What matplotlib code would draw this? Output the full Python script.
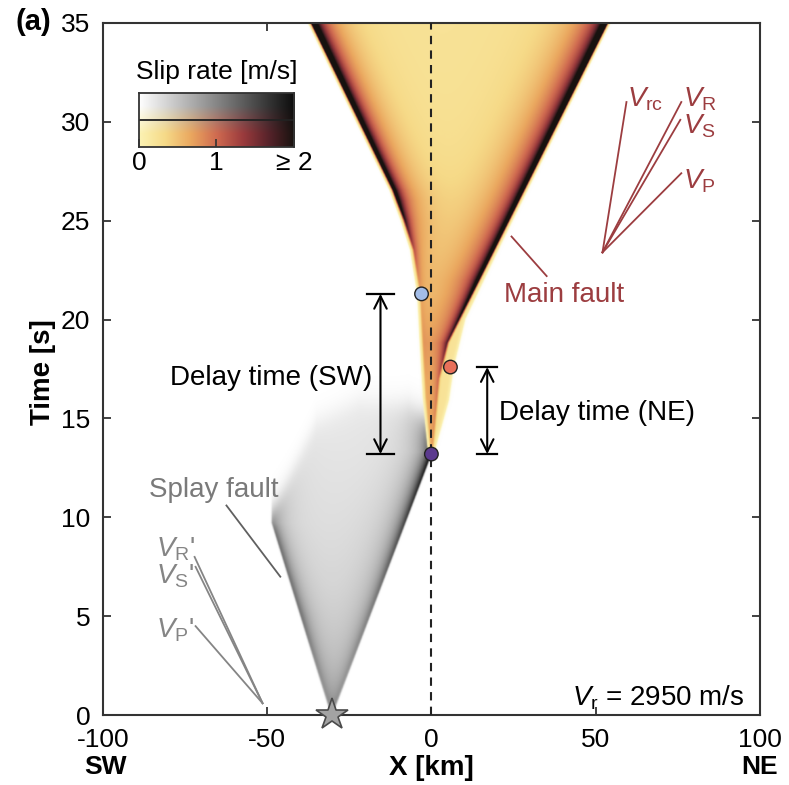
import numpy as np
import matplotlib
matplotlib.use("Agg")
import matplotlib.pyplot as plt
from matplotlib.colors import LinearSegmentedColormap

plt.rcParams['font.family'] = ['Liberation Sans', 'DejaVu Sans']
plt.rcParams['mathtext.fontset'] = 'custom'
plt.rcParams['mathtext.rm'] = 'Liberation Sans'
plt.rcParams['mathtext.it'] = 'Liberation Sans:italic'
plt.rcParams['axes.unicode_minus'] = False

# main fault rupture fronts (time [s], position [km]) and peak slip rates [m/s]
main_ne_t = [13.3, 17.0, 18.8, 35.0]
main_ne_x = [0.0, 2.0, 4.6, 53.3]
main_ne_amp_t = [13.3, 17.0, 18.8, 22.0, 35.0]
main_ne_amp = [0.3, 0.7, 1.4, 2.3, 3.2]
main_env_t = [13.3, 15.9, 17.6, 20.0, 24.0, 35.0]
main_env_x = [0.4, 4.8, 6.3, 9.8, 21.3, 53.8]
main_sw_t = [13.3, 16.0, 19.0, 21.3, 23.5, 25.0, 26.5, 35.0]
main_sw_x = [0.0, -1.5, -2.5, -3.2, -5.2, -8.0, -11.3, -36.2]
main_sw_amp_t = [13.3, 21.3, 23.5, 26.0, 35.0]
main_sw_amp = [0.2, 0.35, 0.9, 2.2, 3.2]

# splay fault rupture fronts and healing time
splay_ne_t = [0.0, 13.3]
splay_ne_x = [-30.4, 0.0]
splay_ne_amp_t = [0.0, 6.0, 13.3]
splay_ne_amp = [0.4, 0.9, 1.8]
splay_sw_t = [0.0, 9.7]
splay_sw_x = [-30.4, -48.4]
splay_sw_amp_t = [0.0, 5.0, 9.7]
splay_sw_amp = [0.4, 0.9, 1.0]
splay_heal_x = [-48.4, -35.0, -22.0, -7.0, 0.0]
splay_heal_t = [10.1, 14.8, 15.9, 15.6, 14.6]
splay_bg_t = [0.0, 8.0, 16.0]
splay_bg = [0.4, 0.28, 0.18]

# event markers
hypo = (-30.4, 0.0)
dot_x = [-3.0, 5.8, 0.0]
dot_t = [21.3, 17.6, 13.2]
dot_colors = ['#a3bde8', '#e8705a', '#5b3a8e']

# delay-time brackets: x, t_start, t_end, half cap width
delay_sw = (-15.5, 13.2, 21.3, 4.1)
delay_ne = (17.0, 13.2, 17.6, 3.0)

# wave speed guide lines
main_origin = (52.1, 23.4)
main_tips_x = [59.4, 76.1, 75.8, 76.1]
main_tips_t = [31.0, 31.0, 30.1, 27.4]
main_lab = [r'$V_{\mathrm{rc}}$', r'$V_{\mathrm{R}}$', r'$V_{\mathrm{S}}$', r'$V_{\mathrm{P}}$']
main_lab_x = [59.7, 76.7, 76.7, 76.7]
main_lab_t = [30.75, 30.75, 29.4, 26.65]
splay_origin = (-51.4, 0.6)
splay_tips_x = [-72.1, -71.8, -71.8]
splay_tips_t = [8.0, 7.5, 4.5]
splay_lab = [r"$V_{\mathrm{R}}$'", r"$V_{\mathrm{S}}$'", r"$V_{\mathrm{P}}$'"]
splay_lab_t = [8.04, 6.68, 3.95]


def smooth(z, w):
    return 0.5 * (1 + np.tanh(z / w))


def front(d, amp, w_core, w_tail, w_out, core=0.5):
    # sharp core plus a long tail behind the front, thin fringe ahead of it
    dp = np.clip(d, 0, None)
    behind = core * np.exp(-dp / w_core) + (1 - core) * np.exp(-dp / w_tail)
    return amp * np.where(d >= 0, behind, np.exp(-(d / w_out) ** 2))


x = np.linspace(-100, 100, 1001)
t = np.linspace(0, 35, 876)
xx, tt = np.meshgrid(x, t)

# main fault slip rate
xr = np.interp(tt, main_ne_t, main_ne_x)
xl = np.interp(tt, main_sw_t, main_sw_x)
xe = np.interp(tt, main_env_t, main_env_x)
ar = np.interp(tt, main_ne_amp_t, main_ne_amp)
al = np.interp(tt, main_sw_amp_t, main_sw_amp)
in_l = smooth(xx - xl + 0.3, 0.4)
in_r = smooth(xe - xx, 0.5)
main = (0.22 * in_l * in_r
        + front(xr - xx, ar, 1.2, 8.0, 0.6) * in_l
        + front(xx - xl, al, 1.2, 6.0, 0.7) * smooth(xr - xx + 0.5, 0.4))
main *= smooth(tt - 13.3, 0.15)

# splay fault slip rate
sr = np.interp(tt, splay_ne_t, splay_ne_x)
sl = np.interp(tt, splay_sw_t, splay_sw_x)
sar = np.interp(tt, splay_ne_amp_t, splay_ne_amp)
sal = np.interp(tt, splay_sw_amp_t, splay_sw_amp)
sbg = np.interp(tt, splay_bg_t, splay_bg)
heal = np.interp(xx, splay_heal_x, splay_heal_t)
s_l = smooth(xx - sl, 0.3)
s_r = smooth(sr - xx, 0.3)
splay = (sbg * s_l * s_r
         + front(sr - xx, sar, 1.5, 5.0, 0.4) * s_l
         + front(xx - sl, sal, 1.5, 4.0, 0.4) * s_r)
splay *= 0.5 * (1 - np.tanh((tt - heal) / 0.8))

cmap_main = LinearSegmentedColormap.from_list(
    'slip', ['#fcf3b4', '#f6da88', '#eaa75f', '#cf6a50', '#9b3b3d', '#57232a', '#17120f'])
cmap_gray = LinearSegmentedColormap.from_list('slipgray', ['#ffffff', '#0c0c0c'])

fig = plt.figure(figsize=(7.89, 7.85), dpi=100)
ax = fig.add_axes([0.1305, 0.089, 0.8325, 0.8818])

ext = [-100, 100, 0, 35]
ax.imshow(splay, extent=ext, origin='lower', aspect='auto', cmap=cmap_gray,
          vmin=0, vmax=2, interpolation='bilinear', zorder=1)
ax.imshow(main, extent=ext, origin='lower', aspect='auto', cmap=cmap_main,
          vmin=0, vmax=2, alpha=np.clip(main / 0.04, 0, 1),
          interpolation='bilinear', zorder=2)

ax.axvline(0, color='#222222', ls=(0, (4, 3)), lw=1.5, zorder=3)

# wave speed guides
red = '#9c3d40'
for tx, ty in zip(main_tips_x, main_tips_t):
    ax.plot([main_origin[0], tx], [main_origin[1], ty], color=red, lw=1.3, zorder=4)
for lab, lx, ly in zip(main_lab, main_lab_x, main_lab_t):
    ax.text(lx, ly, lab, color=red, fontsize=20, ha='left', va='baseline')
grey = '#858585'
for tx, ty in zip(splay_tips_x, splay_tips_t):
    ax.plot([splay_origin[0], tx], [splay_origin[1], ty], color=grey, lw=1.3, zorder=4)
for lab, ly in zip(splay_lab, splay_lab_t):
    ax.text(-83.7, ly, lab, color=grey, fontsize=20, ha='left', va='baseline')

ax.plot([24.4, 35.1], [24.2, 22.2], color=red, lw=1.3, zorder=4)
ax.text(40.5, 21.25, 'Main fault', color=red, fontsize=20, ha='center', va='center')
ax.plot([-62.4, -46.0], [10.6, 7.0], color='#606060', lw=1.3, zorder=4)
ax.text(-66.4, 11.4, 'Splay fault', color='#7a7a7a', fontsize=20, ha='center', va='center')

# delay time brackets
for (bx, t0, t1, hw) in [delay_sw, delay_ne]:
    ax.annotate('', xy=(bx, t1), xytext=(bx, t0),
                arrowprops=dict(arrowstyle='<->,head_length=0.6,head_width=0.3',
                                color='black', lw=1.5, shrinkA=0, shrinkB=0,
                                mutation_scale=15), zorder=5)
    for ty in (t0, t1):
        ax.plot([bx - hw, bx + hw], [ty, ty], color='black', lw=1.6, zorder=5)
ax.text(-48.7, 17.05, 'Delay time (SW)', fontsize=20, ha='center', va='center')
ax.text(20.7, 15.3, 'Delay time (NE)', fontsize=20, ha='left', va='center')

ax.scatter(dot_x, dot_t, s=95, c=dot_colors, edgecolors='#222222', linewidths=1, zorder=6)
ax.plot(*hypo, marker='*', ms=24, color='#a3a3a3', mec='#4a4a4a', mew=1.2,
        clip_on=False, zorder=7)

ax.text(95.3, 0.5, r'$V_{\mathrm{r}}$ = 2950 m/s', fontsize=20, ha='right', va='baseline')

ax.set_xlim(-100, 100)
ax.set_ylim(0, 35)
ax.set_xticks([-100, -50, 0, 50, 100])
ax.set_yticks(np.arange(0, 36, 5))
ax.tick_params(direction='in', length=6, width=1.3, labelsize=19, color='#333333',
               top=True, right=True)
ax.tick_params(axis='x', pad=9)
ax.tick_params(axis='y', pad=9)
for s in ax.spines.values():
    s.set_linewidth(1.5)
    s.set_color('#333333')

ax.text(-0.091, 0.496, 'Time [s]', transform=ax.transAxes, rotation=90,
        fontsize=20, fontweight='bold', ha='center', va='center')
ax.text(0.5, -0.077, 'X [km]', transform=ax.transAxes, fontsize=20,
        fontweight='bold', ha='center', va='center')
ax.text(0.004, -0.075, 'SW', transform=ax.transAxes, fontsize=19,
        fontweight='bold', ha='center', va='center')
ax.text(1.0, -0.075, 'NE', transform=ax.transAxes, fontsize=19,
        fontweight='bold', ha='center', va='center')
fig.text(0.042, 0.972, '(a)', fontsize=21, fontweight='bold', ha='center', va='center')

# colour scale inset
cax = fig.add_axes([0.176, 0.8127, 0.1965, 0.0688])
grad = np.linspace(0, 2, 256)
rows = np.vstack([cmap_main(grad / 2), cmap_gray(grad / 2)]).reshape(2, 256, 4)
cax.imshow(rows, extent=[0, 2, 0, 2], origin='lower', aspect='auto', interpolation='bilinear')
cax.axhline(1, color='#222222', lw=1.3)
cax.set_xlim(0, 2)
cax.set_ylim(0, 2)
cax.set_yticks([])
cax.set_xticks([0, 1, 2])
cax.set_xticklabels(['0', '1', '\u2265 2'])
cax.tick_params(axis='x', direction='in', length=6, width=1.2, labelsize=19, pad=3,
                color='#333333')
for s in cax.spines.values():
    s.set_linewidth(1.3)
    s.set_color('#333333')
fig.text(0.275, 0.908, 'Slip rate [m/s]', fontsize=19, ha='center', va='center')

fig.savefig('out.png', dpi=100)
